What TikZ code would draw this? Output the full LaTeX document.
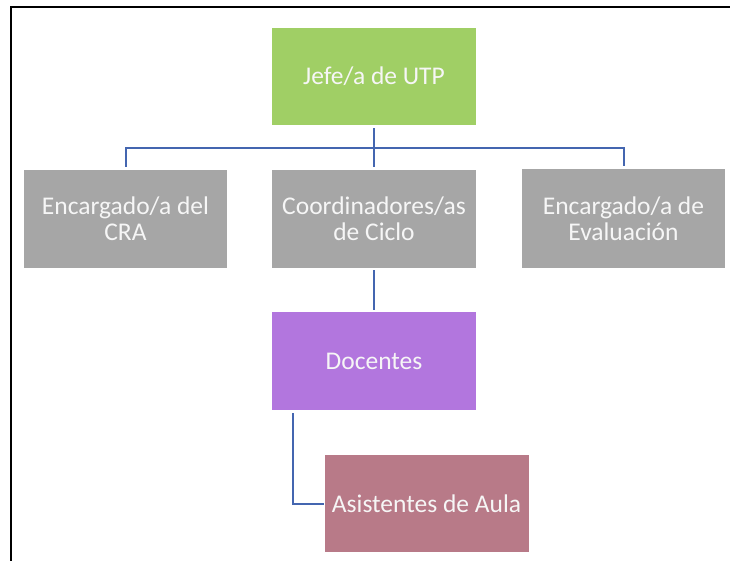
\documentclass[tikz,border=0pt]{standalone}
\usepackage{fontspec}
\setmainfont{Carlito}
\definecolor{boxgreen}{HTML}{A0CF65}
\definecolor{boxgray}{HTML}{A6A6A6}
\definecolor{boxpurple}{HTML}{B276DE}
\definecolor{boxmauve}{HTML}{B87A88}
\definecolor{linkblue}{HTML}{4466B0}
\definecolor{boxtext}{HTML}{F6F6F6}
\begin{document}
\begin{tikzpicture}[x=1pt,y=-1pt,
  orgbox/.style={rectangle, inner sep=0pt, minimum width=204pt, minimum height=97pt,
    text=boxtext, align=center, font=\fontsize{25.5}{26}\selectfont},
  conn/.style={draw=linkblue, line width=2pt}]
\useasboundingbox (0,0) rectangle (730,561);
\fill[white] (0,0) rectangle (730,561);
\draw[line width=2.8pt] (11,563) -- (11,7) -- (732,7);
\node[orgbox, fill=boxgreen] (jefe) at (374,76.5) {Jefe/a de UTP};
\node[orgbox, fill=boxgray, minimum width=203pt, minimum height=98pt] (cra) at (125.5,219) {Encargado/a del\\CRA};
\node[orgbox, fill=boxgray, minimum height=98pt] (coord) at (374,219) {Coordinadores/as\\de Ciclo};
\node[orgbox, fill=boxgray, minimum width=203pt, minimum height=98pt] (eval) at (623.5,218.5) {Encargado/a de\\Evaluación};
\node[orgbox, fill=boxpurple, minimum height=98pt] (doc) at (374,361) {Docentes};
\node[orgbox, fill=boxmauve] (asis) at (426.5,503.5) {Asistentes de Aula};
\draw[conn, shorten <=3pt, shorten >=3pt] (jefe.south) -- (coord.north);
\draw[conn, shorten <=3pt, shorten >=3pt] (cra.north) -- ++(0,-22) -| (eval.north);
\draw[conn, shorten <=2pt, shorten >=2pt] (coord.south) -- (doc.north);
\draw[conn, shorten <=3pt] ([xshift=-81.3pt]doc.south) |- (asis.west);
\end{tikzpicture}
\end{document}
